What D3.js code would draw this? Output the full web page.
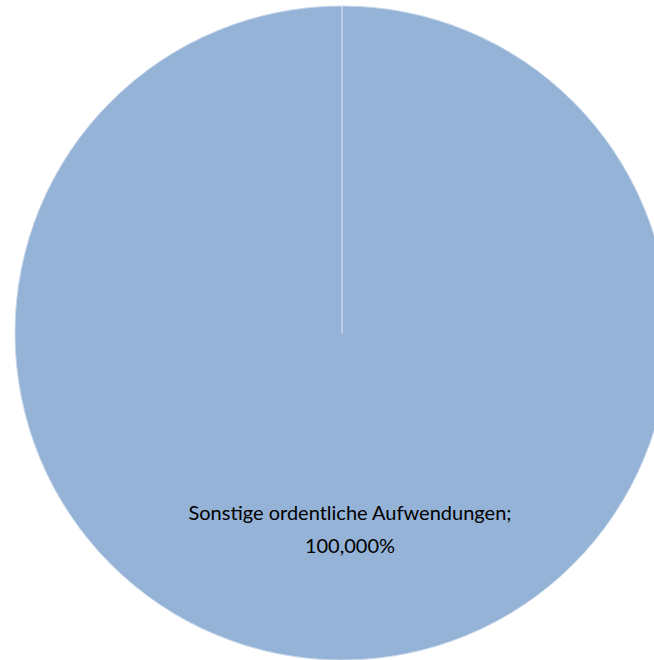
<!DOCTYPE html>
<html><head><meta charset="utf-8">
<script src="https://cdn.jsdelivr.net/npm/d3@7"></script>
<style>html,body{margin:0;padding:0;background:#fff;}svg{display:block;}</style>
</head><body>
<svg id="chart" width="654" height="660"></svg>
<script>
const categories = ["Sonstige ordentliche Aufwendungen", "Übrige Aufwendungen"];
const values = [100, 0];
const percentLabels = ["100,000%", "0,000%"];
const colors = ["#95B3D7", "#95B3D7"];

const svg = d3.select("#chart");
const cx = 342, cy = 333, r = 327;
const g = svg.append("g").attr("transform", `translate(${cx},${cy})`);

const pie = d3.pie().sort(null).value(d => d.v);
const data = categories.map((c, i) => ({c, v: values[i], p: percentLabels[i], col: colors[i]}));
const arcs = pie(data);
const arc = d3.arc().innerRadius(0).outerRadius(r);

g.selectAll("path").data(arcs).join("path")
  .attr("d", arc)
  .attr("fill", d => d.data.col)
  .attr("stroke", "#c9d8ea")
  .attr("stroke-width", 1);

const labelArc = d3.arc().innerRadius(r * 0.615).outerRadius(r * 0.615);
arcs.filter(d => d.data.v > 0).forEach(d => {
  const [x, y] = labelArc.centroid(d);
  const t = g.append("text")
    .attr("text-anchor", "middle")
    .attr("font-family", "Lato, 'Open Sans', sans-serif")
    .attr("font-size", "20px")
    .attr("fill", "#000");
  t.append("tspan").attr("x", x + 8).attr("y", y - 14).text(d.data.c + ";");
  t.append("tspan").attr("x", x + 8).attr("y", y + 19).text(d.data.p);
});
</script>
</body></html>
